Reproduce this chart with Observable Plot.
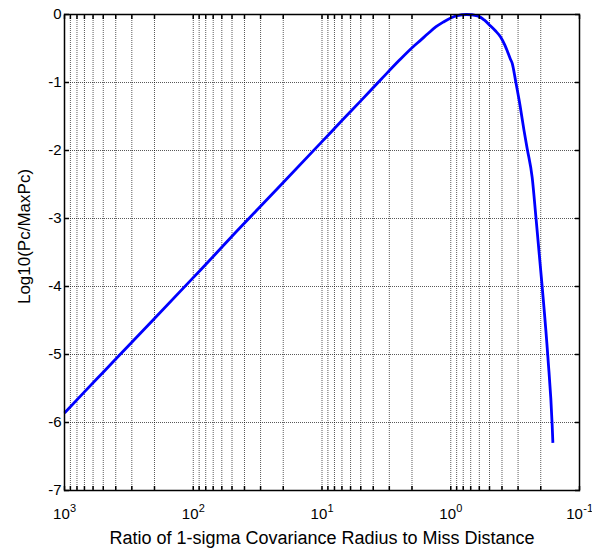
<!DOCTYPE html>
<html>
<head>
<meta charset="utf-8">
<script src="https://cdn.jsdelivr.net/npm/d3@7"></script>
<script src="https://cdn.jsdelivr.net/npm/@observablehq/plot@0.6"></script>
<style>
  html, body { margin: 0; padding: 0; background: #fff; }
</style>
</head>
<body>
<div id="chart"></div>
<script>
// Ratio of 1-sigma covariance radius to miss distance (x) and log10(Pc/MaxPc) (y)
const ratio = [1000, 700, 500, 300, 200, 100, 70, 50, 30, 20, 10, 7, 5, 3.5, 2.5, 1.95, 1.72, 1.5, 1.3, 1.14, 1.0, 0.89, 0.755, 0.62, 0.55, 0.49, 0.45, 0.41, 0.38, 0.365, 0.345, 0.333, 0.314, 0.29, 0.27, 0.255, 0.233, 0.218, 0.195, 0.176, 0.163, 0.161];
const logPc = [-5.86, -5.55, -5.26, -4.82, -4.47, -3.87, -3.56, -3.26, -2.82, -2.47, -1.87, -1.56, -1.27, -0.96, -0.67, -0.47, -0.38, -0.28, -0.18, -0.11, -0.05, -0.015, 0, -0.02, -0.08, -0.17, -0.24, -0.33, -0.45, -0.53, -0.65, -0.72, -0.97, -1.33, -1.70, -1.97, -2.4, -2.98, -4.0, -5.04, -6.04, -6.30];

// Axis ticks
const xDecades = [1000, 100, 10, 1, 0.1];
const xExponents = ["3", "2", "1", "0", "-1"];
const minorMult = [2, 3, 4, 5, 6, 7, 8, 9];
const yTicks = [0, -1, -2, -3, -4, -5, -6, -7];
const yTickLabels = ["0", "-1", "-2", "-3", "-4", "-5", "-6", "-7"];

const xLabel = "Ratio of 1-sigma Covariance Radius to Miss Distance";
const yLabel = "Log10(Pc/MaxPc)";

const data = ratio.map((r, i) => ({ r, v: logPc[i] }));
const xMinor = [];
xDecades.slice(1).forEach(d => minorMult.forEach(m => xMinor.push(d * m)));
const xAll = xDecades.concat(xMinor);

const font = "'Liberation Sans', Arial, Helvetica, sans-serif";
const gridStyle = { stroke: "#000", strokeOpacity: 0.65, strokeDasharray: "1,1", strokeWidth: 1 };

// exponent label pieces (centered as a whole under each decade tick)
const baseW = 16.7;           // width of "10" at 15px
const expW = e => e.length === 1 ? 6.1 : 9.8;
const xTickLabelMarks = xDecades.flatMap((d, i) => {
  const e = xExponents[i];
  const W = baseW + expW(e);
  const endOf10 = -W / 2 + baseW;
  return [
    Plot.text([d], { x: d => d, frameAnchor: "bottom", text: () => "10", textAnchor: "end", lineAnchor: "bottom", dx: endOf10, dy: 28, fontSize: 15, fill: "#000" }),
    Plot.text([d], { x: d => d, frameAnchor: "bottom", text: () => e, textAnchor: "start", lineAnchor: "bottom", dx: endOf10 + 0.3, dy: 21, fontSize: 11, fill: "#000" })
  ];
});

const chart = Plot.plot({
  width: 592,
  height: 548,
  marginLeft: 64,
  marginRight: 13,
  marginTop: 14,
  marginBottom: 58,
  style: { fontFamily: font, fontSize: "15px", background: "#fff", color: "#000" },
  x: { type: "log", domain: [1000, 0.1] },
  y: { domain: [-7, 0] },
  marks: [
    Plot.ruleX(xAll, { x: d => d, ...gridStyle }),
    Plot.ruleY(yTicks, { y: d => d, ...gridStyle }),
    Plot.line(data, { x: "r", y: "v", stroke: "#0000ff", strokeWidth: 2.8, strokeLinejoin: "round", strokeLinecap: "butt", curve: "monotone-x" }),
    // inward ticks on all four sides
    Plot.axisX({ anchor: "bottom", ticks: xAll, tickSize: 4, dy: -4, tickFormat: () => "", label: null, stroke: "#000", strokeWidth: 1.5 }),
    Plot.axisX({ anchor: "top", ticks: xAll, tickSize: 4, dy: 4, tickFormat: () => "", label: null, stroke: "#000", strokeWidth: 1.5 }),
    Plot.axisY({ anchor: "left", ticks: yTicks, tickSize: 5, dx: 5, tickFormat: () => "", label: null, stroke: "#000", strokeWidth: 1.5 }),
    Plot.axisY({ anchor: "right", ticks: yTicks, tickSize: 5, dx: -5, tickFormat: () => "", label: null, stroke: "#000", strokeWidth: 1.5 }),
    // y tick labels
    Plot.axisY({ anchor: "left", ticks: yTicks, tickSize: 0, tickPadding: 3, tickFormat: d => yTickLabels[yTicks.indexOf(d)], label: null, fontSize: 15, fill: "#000" }),
    ...xTickLabelMarks,
    Plot.frame({ stroke: "#000", strokeWidth: 1.5 }),
    Plot.text([xLabel], { frameAnchor: "bottom", text: d => d, dy: 53, lineAnchor: "bottom", fontSize: 18, fill: "#000" }),
    Plot.text([yLabel], { frameAnchor: "left", text: d => d, rotate: -90, textAnchor: "middle", dx: -40, dy: -16, fontSize: 17, fill: "#000" })
  ]
});

document.getElementById("chart").appendChild(chart);
</script>
</body>
</html>
